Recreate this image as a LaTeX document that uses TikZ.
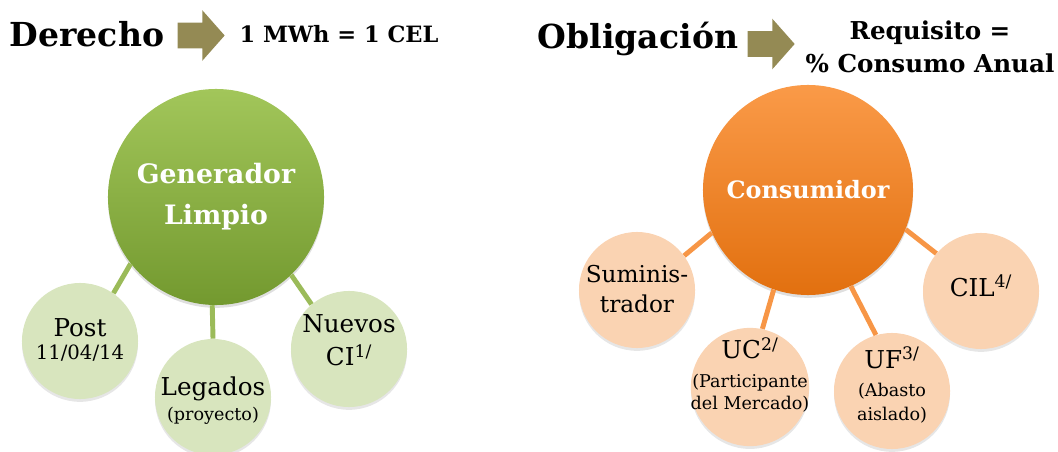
\documentclass[tikz,border=0pt]{standalone}
\usepackage{fontspec}
\setmainfont{DejaVu Serif}
\usepackage{tikz}
\usetikzlibrary{shapes.arrows,shadows}
\definecolor{tanarrow}{HTML}{948A54}
\definecolor{greentop}{HTML}{A2C65A}
\definecolor{greenbot}{HTML}{73992F}
\definecolor{greenpale}{HTML}{D8E5BE}
\definecolor{greenline}{HTML}{9BBB59}
\definecolor{orangetop}{HTML}{FA9A48}
\definecolor{orangebot}{HTML}{E2700F}
\definecolor{orangepale}{HTML}{FAD3B2}
\definecolor{orangeline}{HTML}{F79646}
\tikzset{every node/.style={align=center,inner sep=0pt},
  title/.style={font=\fontsize{23.5}{28}\selectfont\bfseries},
  claim/.style={font=\fontsize{16}{23}\selectfont\bfseries},
  goarrow/.style={single arrow,fill=tanarrow,inner sep=0.3125cm,minimum height=1.175cm,single arrow head extend=0.3125cm,single arrow tip angle=97},
  hub/.style={circle,minimum size=5.4cm,text=white,font=\fontsize{19}{29}\selectfont\bfseries,drop shadow={opacity=0.25,shadow xshift=0pt,shadow yshift=-2pt}},
  leaf/.style={circle,minimum size=2.9cm,font=\fontsize{17.5}{21}\selectfont,drop shadow={opacity=0.2,shadow xshift=0pt,shadow yshift=-2pt}},
  greenleaf/.style={leaf,fill=greenpale},
  orangeleaf/.style={leaf,fill=orangepale},
  greenlink/.style={draw=greenline,line width=3.5pt},
  orangelink/.style={draw=orangeline,line width=3.5pt}}
\newcommand{\subtxt}{\fontsize{12.5}{16}\selectfont}
% text of a leaf: no size of its own, moved up by #1
\newcommand{\lift}[2]{\raisebox{\dimexpr#1-0.25em\relax}[0pt][0pt]{\begin{tabular}{@{}c@{}}#2\end{tabular}}}
\begin{document}
\begin{tikzpicture}[x=0.025cm,y=-0.025cm]
    \useasboundingbox (0,0) rectangle (1058,452);
    % titles
    \node[title] (der) at (87,34) {Derecho};
    \node[goarrow] (arrA) at (195.5,35.5) {};
    \node[claim] (mwh) at (339,34) {1 MWh = 1 CEL};
    \node[title] (obl) at (638,39) {Obligación};
    \node[goarrow] (arrB) at (765.5,44) {};
    \node[claim,font=\fontsize{17.5}{23.5}\selectfont\bfseries] (req) at (930,47) {Requisito =\\\% Consumo Anual};
    % generador
    \node[hub,top color=greentop,bottom color=greenbot] (gen) at (216,197) {Generador\\Limpio};
    \node[greenleaf] (post) at (80,341) {\lift{-0.7pt}{Post\\[-5pt]{\fontsize{14}{17}\selectfont 11/04/14}}};
    \node[greenleaf] (leg) at (213,397) {\lift{-3.5pt}{Legados\\[-3pt]{\subtxt (proyecto)}}};
    \node[greenleaf] (nue) at (349,349) {\lift{4pt}{Nuevos\\[2pt]CI\textsuperscript{1/}}};
    \draw[greenlink] (gen.218) -- (post.55);
    \draw[greenlink] (gen.268) -- (leg.90);
    \draw[greenlink] (gen.314) -- (nue.130);
    % consumidor
    \node[hub,minimum size=5.25cm,font=\fontsize{17}{20}\selectfont\bfseries,top color=orangetop,bottom color=orangebot] (con) at (808,190) {Consumidor};
    \node[orangeleaf,font=\fontsize{16.5}{21}\selectfont] (sum) at (637,290) {\lift{-1.4pt}{Suminis-\\trador}};
    \node[orangeleaf] (uc) at (750,387) {\lift{6.5pt}{UC\textsuperscript{2/}\\[-1pt]{\subtxt (Participante}\\[-5pt]{\subtxt del Mercado)}}};
    \node[orangeleaf] (uf) at (892,391) {\lift{2pt}{UF\textsuperscript{3/}\\[-1pt]{\subtxt (Abasto}\\[-4pt]{\subtxt aislado)}}};
    \node[orangeleaf] (cil) at (981,291) {\lift{0.7pt}{CIL\textsuperscript{4/}}};
    \draw[orangelink] (con.204) -- (sum.36);
    \draw[orangelink] (con.251) -- (uc.78);
    \draw[orangelink] (con.294) -- (uf.106);
    \draw[orangelink] (con.338) -- (cil.140);
\end{tikzpicture}
\end{document}
